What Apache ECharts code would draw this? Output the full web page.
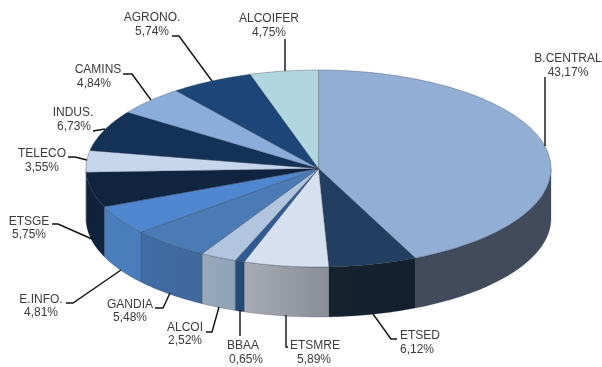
<!DOCTYPE html>
<html><head><meta charset="utf-8">
<style>html,body{margin:0;padding:0;background:#fff}#c{width:602px;height:367px}</style>
<script src="https://cdn.jsdelivr.net/npm/echarts@6/dist/echarts.min.js"></script>
</head><body><div id="c"></div>
<script>
const categories=['B.CENTRAL','ETSED','ETSMRE','BBAA','ALCOI','GANDIA','E.INFO.','ETSGE','TELECO','INDUS.','CAMINS','AGRONO.','ALCOIFER'];
const values=[43.17,6.12,5.89,0.65,2.52,5.48,4.81,5.75,3.55,6.73,4.84,5.74,4.75];
const topColors=['#93aed4','#223f61','#d6e0ee','#2f5a92','#b2c5de','#4b7bb5','#4f88d0','#10233f','#c6d6ec','#143158','#8aaddc','#1c4578','#b2d6e0'];
const sideRight=['#414b5c','#131f2e','#888d96','#264a78','#8fa2b6','#40699b','#4a7cba','#0f2340','#8a9ab0','#0c1f38','#5a7090','#123050','#7a98a0'];
const sideLeft=['#414b5c','#15232f','#a6abb5','#264a78','#98a9bb','#3f6ca5','#4a7fbf','#0f2238','#8a9ab0','#0c1f38','#5a7090','#123050','#7a98a0'];
// name x,y ; percent x,y ; leader polyline
const labelLayout=[
 {n:[568,59],p:[568,73],l:[[545,77],[545,146]]},
 {n:[420,336],p:[417,350],l:[[373,314],[391,339],[397,339]]},
 {n:[315,346],p:[314,360],l:[[286,315],[286,347],[288,347]]},
 {n:[243,346],p:[246,360],l:[[240,310],[240,336]]},
 {n:[185,328],p:[185,341],l:[[219,307],[212,332],[206,332]]},
 {n:[130,305],p:[130,318],l:[[170,293],[163,308],[155,308]]},
 {n:[41,300],p:[41,313],l:[[121,270],[73,303],[66,303]]},
 {n:[29,222],p:[29,235],l:[[92,239],[58,224],[52,224]]},
 {n:[42,154],p:[42,168],l:[[87,160],[75,157],[68,157]]},
 {n:[73,113],p:[74,127],l:[[105,129],[93,131]]},
 {n:[98,70],p:[94,84],l:[[151,100],[132,74],[123,74]]},
 {n:[152,18],p:[152,32],l:[[212,81],[179,36],[172,36]]},
 {n:[269,19],p:[269,33],l:[[285,71],[285,39]]}
];
const pie={cx:318.5,cy:168.5,rx:232.5,ry:98.5,depth:50};
const fmt=v=>v.toFixed(2).replace('.',',')+'%';
const total=values.reduce((a,b)=>a+b,0);
const pt=(a,dy)=>[pie.cx+pie.rx*Math.sin(a),pie.cy-pie.ry*Math.cos(a)+(dy||0)];
const arc=(a0,a1,dy)=>{const n=Math.max(2,Math.ceil((a1-a0)/0.02));const r=[];for(let i=0;i<=n;i++)r.push(pt(a0+(a1-a0)*i/n,dy));return r;};
const starts=[];let acc=0;values.forEach(v=>{starts.push(acc/total*2*Math.PI);acc+=v;});
function renderItem(params,api){
  const i=params.dataIndex, v=api.value(0);
  const a0=starts[i], a1=a0+v/total*2*Math.PI, ch=[];
  const s0=Math.max(a0,Math.PI/2), s1=Math.min(a1,3*Math.PI/2);
  if(s1>s0){
    const up=arc(s0,s1,0), dn=arc(s0,s1,pie.depth).reverse();
    const xs=up.map(p=>p[0]), x0=Math.min(...xs), x1=Math.max(...xs);
    ch.push({type:'polygon',z2:1,shape:{points:up.concat(dn)},style:{
      fill:{type:'linear',x:x0,y:0,x2:x1,y2:0,global:true,colorStops:[{offset:0,color:sideLeft[i]},{offset:1,color:sideRight[i]}]},
      stroke:'rgba(30,40,60,0.35)',lineWidth:0.6}});
  }
  ch.push({type:'polygon',z2:3,shape:{points:[[pie.cx,pie.cy]].concat(arc(a0,a1,0))},style:{fill:topColors[i],stroke:'rgba(40,50,70,0.55)',lineWidth:0.6}});
  const L=labelLayout[i];
  ch.push({type:'polyline',z2:5,shape:{points:L.l},style:{fill:null,stroke:'#111',lineWidth:1.4}});
  const font={fontFamily:'"Liberation Sans",Arial,sans-serif',fontSize:12,fill:'#3a3a3a',align:'center',verticalAlign:'middle'};
  ch.push({type:'text',z2:6,style:Object.assign({x:L.n[0],y:L.n[1],text:categories[i]},font)});
  ch.push({type:'text',z2:6,style:Object.assign({x:L.p[0],y:L.p[1],text:fmt(v)},font)});
  return {type:'group',children:ch};
}
const chart=echarts.init(document.getElementById('c'),null,{renderer:'canvas'});
chart.setOption({animation:false,backgroundColor:'#fff',
  series:[{type:'custom',coordinateSystem:'none',renderItem,
    data:values.map((v,i)=>({name:categories[i],value:[v]}))}]});
</script></body></html>
